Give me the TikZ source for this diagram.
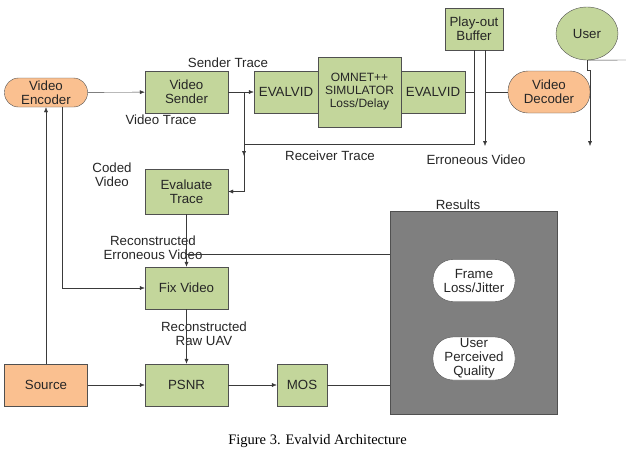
\documentclass[tikz,border=0pt]{standalone}
\usepackage{fontspec}
\setmainfont{Liberation Serif}
\setsansfont{Liberation Sans}
\usetikzlibrary{positioning,shapes.geometric,arrows.meta,calc}
\definecolor{boxgreen}{HTML}{C3D69B}
\definecolor{boxorange}{HTML}{FAC090}
\definecolor{boxline}{HTML}{505050}
\definecolor{wire}{HTML}{3A3A3A}
\definecolor{resgray}{HTML}{7F7F7F}
\definecolor{ink}{HTML}{262626}
\begin{document}
\begin{tikzpicture}[x=1pt, y=-1pt, ->, >={Latex[length=5pt,width=4pt]}, semithick,
  every node/.style={font=\sffamily\fontsize{13.3}{14}\selectfont, text=ink, align=center, inner sep=1pt}]
		\tikzstyle{greenbox}=[draw=boxline, fill=boxgreen, thin, minimum width=83pt, minimum height=42pt]
		\tikzstyle{pill}=[draw=boxline, fill=boxorange, thin, rounded corners=14pt, minimum width=83pt, minimum height=29pt]
		\tikzstyle{whitepill}=[draw=boxline, fill=white, thin, rounded corners=20pt, minimum width=82pt, minimum height=42pt]
		\tikzstyle{wiring}=[draw=wire, thin]
		\useasboundingbox (0,0) rectangle (626,451);
		
		\node [pill] (enc) at (46,92.5) {Video\\Encoder};
		\node [greenbox] (snd) at (186.5,92) {Video\\Sender};
		\node [greenbox, minimum width=64pt] (evl) at (286,92) {EVALVID};
		\node [greenbox, minimum height=70pt, font=\sffamily\fontsize{12}{13}\selectfont] (sim) at (359.5,92) {OMNET++\\SIMULATOR\\Loss/Delay};
		\node [greenbox, minimum width=64pt] (evr) at (433,92) {EVALVID};
		\node [greenbox, minimum width=58pt] (pob) at (474,29) {Play-out\\Buffer};
		\node [draw=boxline, fill=boxgreen, thin, ellipse, minimum width=62pt, minimum height=53pt] (usr) at (587,33.5) {User};
		\node [pill, rounded corners=20pt, minimum width=82pt, minimum height=42pt] (dec) at (549,92) {Video\\Decoder};
		
		\node [greenbox, minimum height=45pt] (evt) at (186.5,191.5) {Evaluate\\Trace};
		\node [greenbox] (fix) at (186.5,288) {Fix Video};
		\node [greenbox, fill=boxorange] (src) at (46,385) {Source};
		\node [greenbox] (psnr) at (186.5,385) {PSNR};
		\node [greenbox, minimum width=50pt] (mos) at (302,385) {MOS};
		
		\node [draw=boxline, fill=resgray, thin, minimum width=167pt, minimum height=203pt] (res) at (473.5,312.5) {};
		\node [whitepill] (flj) at (474,280.5) {Frame\\Loss/Jitter};
		\node [whitepill, minimum height=43pt] (upq) at (474,358.5) {User\\Perceived\\Quality};
		
		% labels
		\node (lst) at (228,63) {Sender Trace};
		\node (lvt) at (161,120) {Video Trace};
		\node (lcv) at (112,175) {Coded\\Video};
		\node (lrt) at (330,156) {Receiver Trace};
		\node (lev) at (476,160) {Erroneous Video};
		\node (lres) at (458,205) {Results};
		\node (lrev) at (153,248) {Reconstructed\\Erroneous Video};
		\node (lrraw) at (204,334) {Reconstructed\\Raw UAV};
		\node [font=\rmfamily\fontsize{14.5}{16}\selectfont, text=black] (cap) at (317.5,441) {Figure 3. Evalvid Architecture};
		
		% junctions
		\coordinate (sj) at (244,92);
		\coordinate (rj) at (474,92);
		\coordinate (rc) at (244,144);
		\coordinate (ev) at (485,146);
		\coordinate (ue) at (626,60);
		\coordinate (rev) at (186.5,254);
		
		\draw [wiring] (enc) to (snd); \draw [wiring] (snd) to (evl);
		\draw [wiring] (sj) |- (evt.east); \draw [wiring, -] (evr.east) to (rj);
		\draw [wiring] (rj |- pob.south) -- (rj |- rc) -- (rc) -- ++(0,12);
		\draw [wiring] (ev |- pob.south) to (ev); \draw [wiring, -] (dec.west) to (ev |- dec.west);
		\draw [wiring] (usr.south) -- ++(0,10) -| ($(ev)+(105,0)$); \draw [wiring, -] (usr.south) to (ue);
		\draw [wiring] (evt) to (fix); \draw [wiring, -] (rev) to (rev -| res.west);
		\draw [wiring] (src) to (enc); \draw [wiring] ([xshift=16pt]enc.south) |- (fix.west);
		\draw [wiring] (fix) to (psnr); \draw [wiring] (src) to (psnr);
		\draw [wiring] (psnr) to (mos); \draw [wiring, -] (mos) to (mos -| res.west);
	\end{tikzpicture}
\end{document}
